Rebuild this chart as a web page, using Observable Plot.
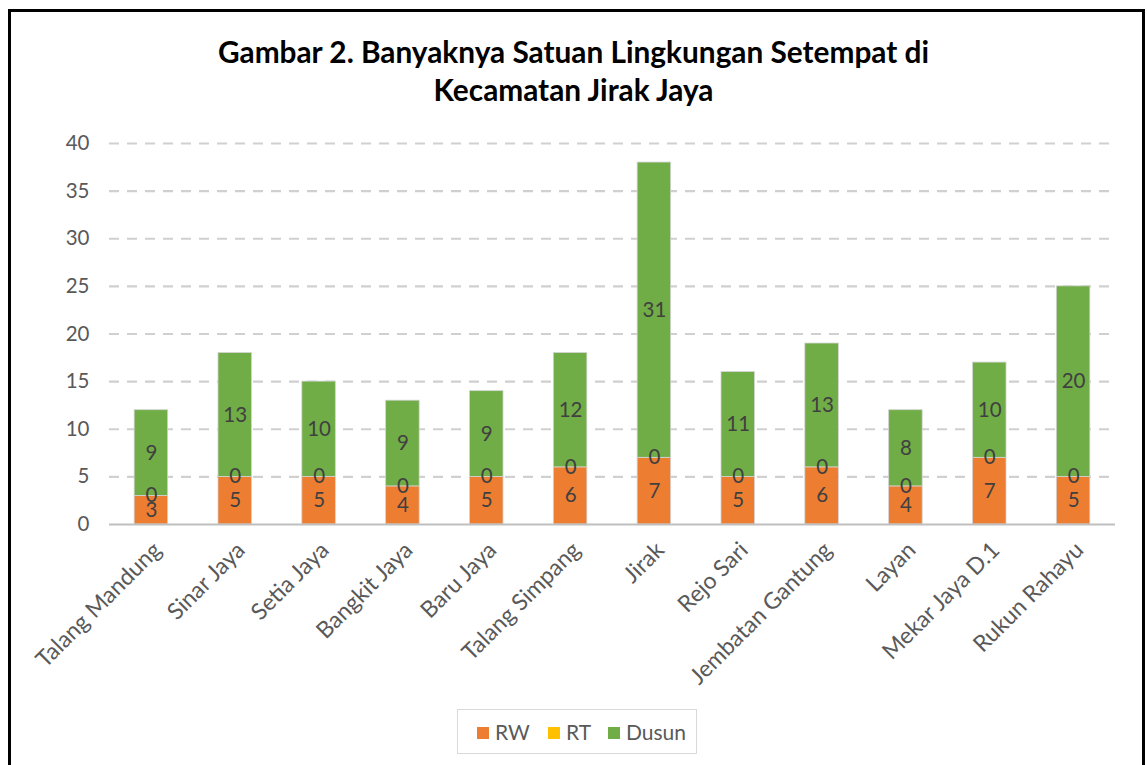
<!DOCTYPE html>
<html>
<head>
<meta charset="utf-8">
<script src="https://cdn.jsdelivr.net/npm/d3@7"></script>
<script src="https://cdn.jsdelivr.net/npm/@observablehq/plot@0.6"></script>
<style>
  html, body { margin: 0; padding: 0; background: #fff; }
  body { width: 1147px; height: 765px; position: relative; overflow: hidden; font-family: Lato, "Open Sans", sans-serif; }
  #frame { position: absolute; left: 8px; top: 9px; width: 1131px; height: 800px; border: 3px solid #000; box-sizing: content-box; z-index: 3; pointer-events: none; }
  #title { position: absolute; left: 0; width: 1147px; top: 33px; text-align: center; font-weight: bold; font-size: 29.8px; line-height: 38px; color: #000; z-index: 2; }
  #chart { position: absolute; left: 0; top: 0; z-index: 1; }
  #legend { position: absolute; left: 457px; top: 709px; width: 238px; height: 43px; border: 1px solid #d9d9d9; z-index: 2; background: #fff; }
  .sw { position: absolute; top: 17px; width: 12px; height: 12px; }
  .lt { position: absolute; top: 9px; font-size: 21px; color: #595959; line-height: 26px; }
</style>
</head>
<body>
<div id="frame"></div>
<div id="title">Gambar 2. Banyaknya Satuan Lingkungan Setempat di<br>Kecamatan Jirak Jaya</div>
<div id="chart"></div>
<div id="legend"></div>
<script>
const categories = ["Talang Mandung", "Sinar Jaya", "Setia Jaya", "Bangkit Jaya", "Baru Jaya", "Talang Simpang", "Jirak", "Rejo Sari", "Jembatan Gantung", "Layan", "Mekar Jaya D.1", "Rukun Rahayu"];
const rw    = [3, 5, 5, 4, 5, 6, 7, 5, 6, 4, 7, 5];
const rt    = [0, 0, 0, 0, 0, 0, 0, 0, 0, 0, 0, 0];
const dusun = [9, 13, 10, 9, 9, 12, 31, 11, 13, 8, 10, 20];
const seriesNames = ["RW", "RT", "Dusun"];
const seriesColors = ["#ED7D31", "#FFC000", "#70AD47"];
const yTicks = [0, 5, 10, 15, 20, 25, 30, 35, 40];
const gridTicks = [5, 10, 15, 20, 25, 30, 35, 40];

const seriesValues = [rw, rt, dusun];
const data = [];
categories.forEach((c, i) => {
  seriesNames.forEach((s, j) => data.push({name: c, series: s, value: seriesValues[j][i]}));
});

const plot = Plot.plot({
  width: 1147,
  height: 765,
  marginTop: 143,
  marginBottom: 241,
  marginLeft: 109,
  marginRight: 32,
  style: {fontFamily: "Lato, 'Open Sans', sans-serif", background: "transparent"},
  x: {domain: categories, paddingInner: 0.6, paddingOuter: 0.3, round: false, label: null},
  y: {domain: [0, 40], label: null},
  color: {domain: seriesNames, range: seriesColors},
  marks: [
    Plot.ruleY(gridTicks, {stroke: "#d0d0d0", strokeWidth: 2.2, strokeDasharray: "10,8"}),
    Plot.axisY({ticks: yTicks, tickSize: 0, tickPadding: 20, fontSize: 20.5, fill: "#595959", label: null}),
    Plot.axisX({tickSize: 0, tickRotate: -45, fontSize: 23, fill: "#595959", label: null, dx: 6, dy: 10}),
    Plot.barY(data, {x: "name", y: "value", fill: "series", z: "series", stroke: "#d4d4d4", strokeWidth: 0.8}),
    Plot.ruleY([0], {stroke: "#bfbfbf", strokeWidth: 2}),
    Plot.text(data, Plot.stackY({x: "name", y: "value", z: "series", text: d => String(d.value), fill: "#404040", fontSize: 20.5}))
  ]
});
document.getElementById("chart").appendChild(plot);

const legend = document.getElementById("legend");
const swatchX = [19, 90, 150];
seriesNames.forEach((s, j) => {
  const sw = document.createElement("div");
  sw.className = "sw";
  sw.style.left = swatchX[j] + "px";
  sw.style.background = seriesColors[j];
  legend.appendChild(sw);
  const t = document.createElement("div");
  t.className = "lt";
  t.style.left = (swatchX[j] + 18) + "px";
  t.textContent = s;
  legend.appendChild(t);
});
</script>
</body>
</html>
